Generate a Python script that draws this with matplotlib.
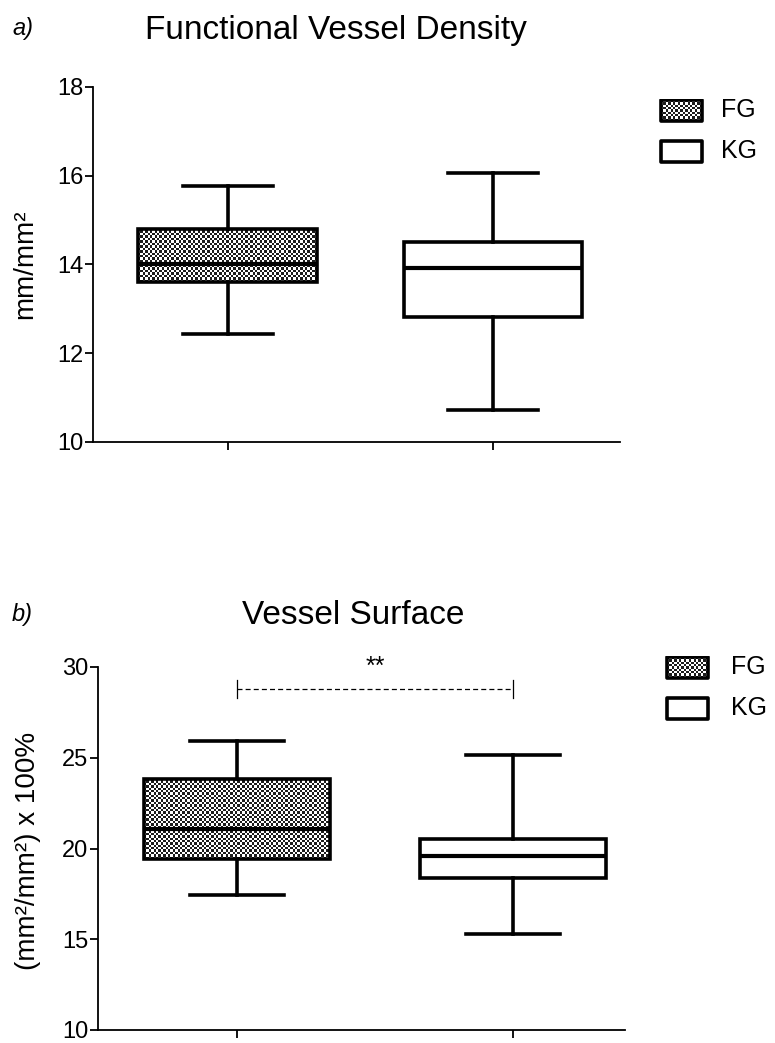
import numpy as np
import matplotlib
matplotlib.use("Agg")
import matplotlib.pyplot as plt
from matplotlib.colors import ListedColormap
from matplotlib.patches import Rectangle

plt.rcParams['font.family'] = ['Liberation Sans', 'DejaVu Sans']

# data: five-number summaries
groups = ["FG", "KG"]

fvd_low = [12.43, 10.72]
fvd_q1 = [13.60, 12.82]
fvd_med = [14.02, 13.92]
fvd_q3 = [14.80, 14.50]
fvd_high = [15.78, 16.06]

vs_low = [17.45, 15.30]
vs_q1 = [19.40, 18.37]
vs_med = [21.05, 19.57]
vs_q3 = [23.85, 20.50]
vs_high = [25.90, 25.16]

sig_label = "**"
sig_y = 28.8

W, H = 775, 1043
LW = 2.6
CHECK = ListedColormap(['#1c1c1c', 'white'])


def px_axes(fig, x0, y0, x1, y1):
    # axes placed by pixel box (top-left origin)
    return fig.add_axes([x0 / W, 1 - y1 / H, (x1 - x0) / W, (y1 - y0) / H])


def checker_fill(ax, patch, x0, x1, y0, y1, cell=2.4):
    p0 = ax.transData.transform((x0, y0))
    p1 = ax.transData.transform((x1, y1))
    nx = max(1, int(round(abs(p1[0] - p0[0]) / cell)))
    ny = max(1, int(round(abs(p1[1] - p0[1]) / cell)))
    grid = np.indices((ny, nx)).sum(axis=0) % 2
    im = ax.imshow(grid, cmap=CHECK, extent=(x0, x1, y0, y1), aspect='auto',
                   interpolation='nearest', zorder=1.5)
    im.set_clip_path(patch)


def box_panel(ax, low, q1, med, q3, high, xlim, ylim, yticks):
    ax.set_xlim(*xlim)
    ax.set_ylim(*ylim)
    stats = []
    for i in range(len(groups)):
        stats.append(dict(label=groups[i], whislo=low[i], q1=q1[i], med=med[i],
                          q3=q3[i], whishi=high[i], fliers=[]))
    width = 0.675
    art = ax.bxp(stats, positions=[1, 2], widths=width, capwidths=0.34,
                 patch_artist=True, showfliers=False, manage_ticks=False,
                 boxprops=dict(linewidth=LW, edgecolor='black', facecolor='white', zorder=2),
                 medianprops=dict(linewidth=LW + 0.4, color='black', zorder=2.5),
                 whiskerprops=dict(linewidth=LW, color='black'),
                 capprops=dict(linewidth=LW, color='black'))
    # FG box gets the checkered fill
    fg_box = art['boxes'][0]
    fg_box.set_facecolor('none')
    checker_fill(ax, fg_box, 1 - width / 2, 1 + width / 2, q1[0], q3[0])
    ax.set_xlim(*xlim)
    ax.set_ylim(*ylim)

    for s in ['top', 'right']:
        ax.spines[s].set_visible(False)
    for s in ['left', 'bottom']:
        ax.spines[s].set_linewidth(1.3)
    ax.set_xticks([1, 2])
    ax.set_xticklabels([])
    ax.set_yticks(yticks)
    ax.tick_params(axis='both', direction='out', length=6, width=1.3, labelsize=17, pad=1)


def legend_block(fig, top, px0, tx):
    lax = px_axes(fig, 640, top, 775, top + 80)
    lax.set_xlim(640, 775)
    lax.set_ylim(top + 80, top)
    lax.axis('off')
    rows = [(top + 11, True, "FG"), (top + 52, False, "KG")]
    for yc, hatched, name in rows:
        r = Rectangle((px0, yc - 10), 41, 21, linewidth=2.6, edgecolor='black',
                      facecolor='none' if hatched else 'white', zorder=3,
                      joinstyle='round')
        lax.add_patch(r)
        if hatched:
            checker_fill(lax, r, px0, px0 + 41, yc + 11, yc - 10)
            lax.set_xlim(640, 775)
            lax.set_ylim(top + 80, top)
        lax.text(tx, yc, name, fontsize=18, va='center', ha='left')


fig = plt.figure(figsize=(W / 100, H / 100), dpi=100)

# panel a
ax1 = px_axes(fig, 93, 87, 620, 442)
box_panel(ax1, fvd_low, fvd_q1, fvd_med, fvd_q3, fvd_high,
          (0.491, 2.479), (10, 18), [10, 12, 14, 16, 18])
fig.text(12 / W, 1 - 28 / H, "a)", fontsize=17, style='italic', va='center')
fig.text(336 / W, 1 - 30 / H, "Functional Vessel Density", fontsize=24,
         ha='center', va='center')
fig.text(25 / W, 1 - 264 / H, "mm/mm²", fontsize=20, rotation=90,
         ha='center', va='center')
legend_block(fig, 99, 661, 721)

# panel b
ax2 = px_axes(fig, 98, 667, 625, 1030)
box_panel(ax2, vs_low, vs_q1, vs_med, vs_q3, vs_high,
          (0.496, 2.406), (10, 30), [10, 15, 20, 25, 30])
fig.text(12 / W, 1 - 615 / H, "b)", fontsize=17, style='italic', va='center')
fig.text(353 / W, 1 - 615 / H, "Vessel Surface", fontsize=24,
         ha='center', va='center')
fig.text(28 / W, 1 - 851 / H, "(mm²/mm²) x 100%", fontsize=20, rotation=90,
         ha='center', va='center')
legend_block(fig, 656, 667, 731)

# significance bracket
ax2.plot([1, 2], [sig_y, sig_y], color='black', lw=0.9, ls=(0, (4, 2.5)), clip_on=False)
ax2.plot([1, 1], [sig_y - 0.5, sig_y + 0.5], color='black', lw=0.9, clip_on=False)
ax2.plot([2, 2], [sig_y - 0.5, sig_y + 0.5], color='black', lw=0.9, clip_on=False)
ax2.text(1.5, sig_y + 0.8, sig_label, fontsize=18, ha='center', va='baseline')

fig.savefig("out.png", dpi=100)
